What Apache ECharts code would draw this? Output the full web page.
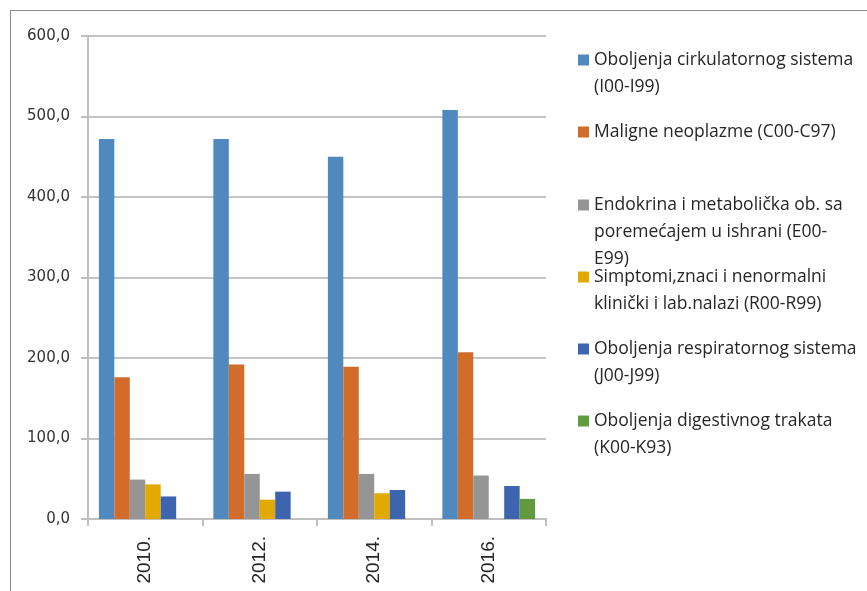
<!DOCTYPE html>
<html>
<head>
<meta charset="utf-8">
<script src="https://cdn.jsdelivr.net/npm/echarts@6/dist/echarts.min.js"></script>
<style>
  html, body { margin: 0; padding: 0; background: #fff; }
  #frame {
    position: absolute; left: 10px; top: 10px; width: 857px; height: 581px;
    border-left: 1px solid #8c8c8c; border-top: 1px solid #8c8c8c;
  }
  #chart { position: absolute; left: 0; top: 0; width: 867px; height: 591px; }
</style>
</head>
<body>
<div id="frame"></div>
<div id="chart"></div>
<script>
// years on the x axis
const years = ['2010.', '2012.', '2014.', '2016.']

const seriesNames = [
  'Oboljenja cirkulatornog sistema (I00-I99)',
  'Maligne neoplazme (C00-C97)',
  'Endokrina i metabolička ob. sa poremećajem u ishrani (E00-E99)',
  'Simptomi,znaci i nenormalni klinički i lab.nalazi (R00-R99)',
  'Oboljenja respiratornog sistema (J00-J99)',
  'Oboljenja digestivnog trakata (K00-K93)'
]

// legend text as wrapped in the original
const legendLines = [
  ['Oboljenja cirkulatornog sistema', '(I00-I99)'],
  ['Maligne neoplazme (C00-C97)'],
  ['Endokrina i metabolička ob. sa', 'poremećajem u ishrani (E00-', 'E99)'],
  ['Simptomi,znaci i nenormalni', 'klinički i lab.nalazi (R00-R99)'],
  ['Oboljenja respiratornog sistema', '(J00-J99)'],
  ['Oboljenja digestivnog trakata', '(K00-K93)']
]

const circulatory = [472, 472, 450, 508]
const malignant = [176, 192, 189, 207]
const endocrine = [49, 56, 56, 54]
const symptoms = [43, 24, 32, null]
const respiratory = [28, 34, 36, 41]
const digestive = [null, null, null, 25]

const yTicks = [0, 100, 200, 300, 400, 500, 600]

const colors = ['#4f89be', '#d26c2b', '#959595', '#e2a900', '#3d64ae', '#629b3f']
const seriesData = [circulatory, malignant, endocrine, symptoms, respiratory, digestive]

const chart = echarts.init(document.getElementById('chart'))

const lineH = 27
const legendTops = [60, 132, 205, 277, 349, 421]

// one legend per series so each sits where the original puts it;
// blank lines in front keep the marker level with the first text line
const legends = seriesNames.map((name, i) => {
  const n = legendLines[i].length
  const blockH = (2 * n - 1) * lineH
  return {
    data: [name],
    orient: 'vertical',
    left: 578,
    top: legendTops[i] - blockH / 2,
    padding: 0,
    itemWidth: 11,
    itemHeight: 11,
    itemGap: 0,
    icon: 'rect',
    selectedMode: false,
    formatter: () => '\n'.repeat(n - 1) + legendLines[i].join('\n'),
    textStyle: {
      fontFamily: 'Open Sans',
      fontSize: 17.5,
      color: '#262626',
      lineHeight: lineH
    }
  }
})

const option = {
  animation: false,
  color: colors,
  grid: { left: 88, right: 321, top: 36, bottom: 72 },
  legend: legends,
  xAxis: {
    type: 'category',
    data: years,
    axisLine: { lineStyle: { color: '#bfbfbf', width: 2 } },
    axisTick: { show: true, length: 7, lineStyle: { color: '#bfbfbf', width: 2 } },
    axisLabel: {
      rotate: 90,
      margin: 17,
      fontFamily: 'Liberation Sans',
      fontSize: 19,
      color: '#262626'
    }
  },
  yAxis: {
    type: 'value',
    min: 0,
    max: 600,
    interval: 100,
    axisLine: { show: true, lineStyle: { color: '#bfbfbf', width: 2 } },
    axisTick: { show: true, length: 7, lineStyle: { color: '#bfbfbf', width: 2 } },
    splitLine: { lineStyle: { color: '#c4c4c4', width: 2 } },
    axisLabel: {
      margin: 18,
      fontFamily: 'DejaVu Sans',
      fontSize: 15,
      color: '#333',
      formatter: v => yTicks.includes(v) ? v.toFixed(1).replace('.', ',') : ''
    }
  },
  series: seriesNames.map((name, i) => ({
    name: name,
    type: 'bar',
    data: seriesData[i],
    barGap: '0%',
    barCategoryGap: '19%',
    itemStyle: { color: colors[i] }
  }))
}

chart.setOption(option)
</script>
</body>
</html>
